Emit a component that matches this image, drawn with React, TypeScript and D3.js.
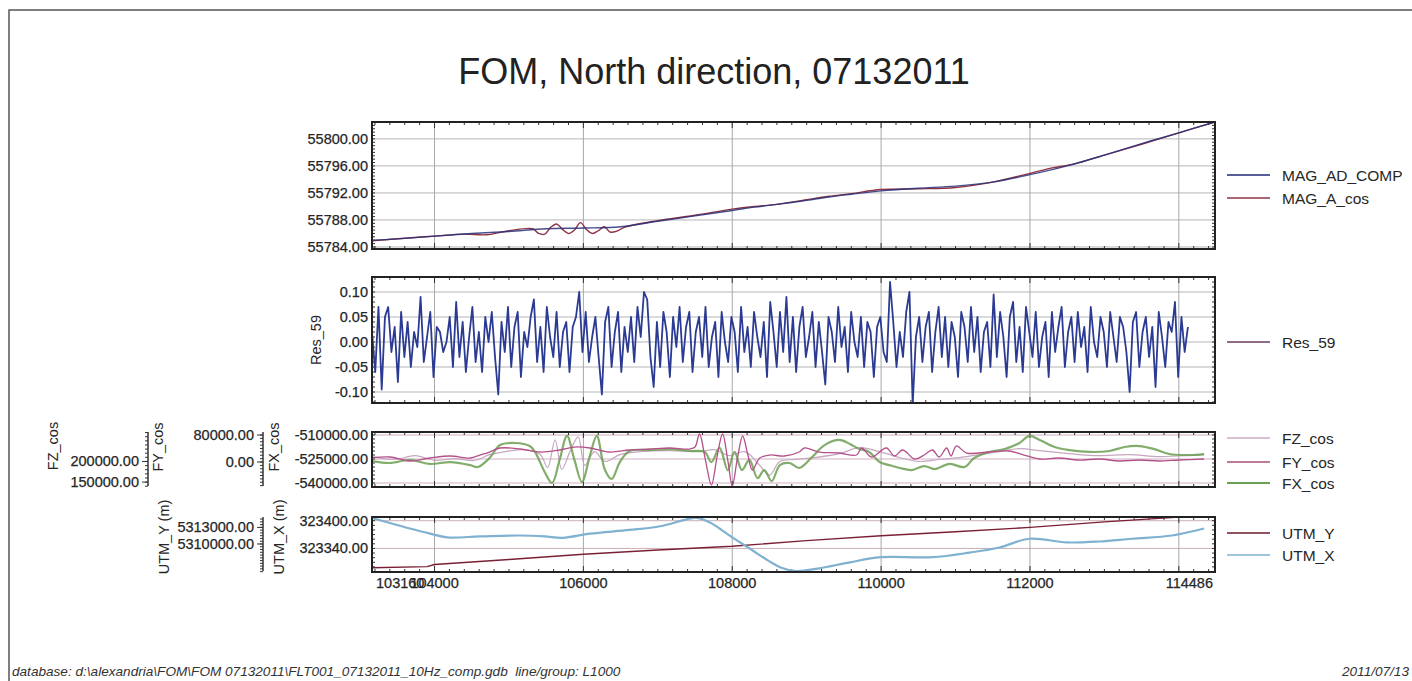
import * as d3 from "d3";

// fiducial range of line L1000
const fidStart = 103160;
const fidEnd = 114486;
const fidGrid = [104000, 106000, 108000, 110000, 112000, 114000];
const fidLabels = [
  { fid: 103160, text: "103160", anchor: "start" },
  { fid: 104000, text: "104000", anchor: "middle" },
  { fid: 106000, text: "106000", anchor: "middle" },
  { fid: 108000, text: "108000", anchor: "middle" },
  { fid: 110000, text: "110000", anchor: "middle" },
  { fid: 112000, text: "112000", anchor: "middle" },
  { fid: 114486, text: "114486", anchor: "end" },
];

// panel 1 - magnetics
const magFid = [103160, 103500, 104000, 104500, 105000, 105500, 106000, 106500, 107000, 107500, 108000, 108300, 108600, 109000, 109300, 109600, 110000, 110500, 111000, 111500, 112000, 112500, 113000, 113500, 114000, 114486];
const magAdComp = [55785.0, 55785.2, 55785.6, 55786.0, 55786.3, 55786.7, 55786.8, 55787.0, 55787.8, 55788.6, 55789.4, 55789.9, 55790.3, 55790.9, 55791.4, 55791.8, 55792.3, 55792.7, 55793.0, 55793.6, 55794.7, 55796.0, 55797.6, 55799.3, 55800.9, 55802.5];
const magCosFid = [103160, 103600, 104000, 104400, 104700, 105000, 105320, 105400, 105480, 105560, 105640, 105720, 105800, 105880, 105960, 106040, 106120, 106200, 106280, 106360, 106440, 106550, 107000, 107500, 108000, 108300, 108600, 109000, 109300, 109600, 110000, 110500, 111000, 111500, 112000, 112300, 112600, 113000, 113500, 114000, 114486];
const magACos = [55784.9, 55785.3, 55785.6, 55785.9, 55785.8, 55786.4, 55786.7, 55786.0, 55785.9, 55786.9, 55787.4, 55786.6, 55786.0, 55786.5, 55787.6, 55786.6, 55786.0, 55786.4, 55787.0, 55786.2, 55786.3, 55786.9, 55787.9, 55788.7, 55789.6, 55790.0, 55790.3, 55791.0, 55791.5, 55791.9, 55792.5, 55792.6, 55792.8, 55793.6, 55794.9, 55795.7, 55796.3, 55797.6, 55799.2, 55800.9, 55802.5];

// panel 2 - residual, one sample every res59Step fids
const res59Step = 43.5;
const res59 = [
  0.02, -0.06, 0.07, -0.095, 0.05, 0.07, -0.02, 0.03, -0.08, 0.06,
  -0.03, 0.04, -0.05, 0.02, -0.01, 0.09, -0.04, 0.01, 0.06, -0.07,
  0.03, 0.02, -0.02, 0.0, 0.05, -0.05, 0.08, -0.03, 0.04, -0.06,
  0.01, 0.07, -0.04, 0.02, -0.06, 0.05, 0.0, 0.06, -0.03, -0.105,
  0.04, -0.02, 0.07, -0.05, 0.03, 0.06, -0.07, 0.02, -0.01, 0.05,
  0.085, -0.04, 0.03, -0.06, 0.07, 0.01, -0.03, 0.06, -0.05, 0.02,
  0.04, -0.06, 0.03, 0.05, 0.1, -0.02, 0.06, -0.04, 0.01, 0.05,
  -0.03, -0.105, 0.04, 0.07, -0.05, 0.02, 0.06, -0.06, 0.03, -0.02,
  0.05, -0.04, 0.07, 0.01, 0.1, 0.085, -0.03, -0.09, 0.04, -0.05,
  0.06, 0.02, -0.07, 0.05, -0.01, 0.07, -0.04, 0.03, 0.06, -0.06,
  0.02, 0.05, -0.03, 0.07, -0.05, 0.01, 0.04, -0.07, 0.06, 0.0,
  -0.04, 0.05, 0.02, -0.06, 0.07, -0.02, 0.03, -0.05, 0.06, 0.01,
  -0.03, 0.04, -0.07, 0.08, 0.02, -0.05, 0.06, -0.02, 0.09, -0.04,
  0.05, -0.06, 0.03, 0.07, -0.03, 0.01, 0.06, -0.05, 0.04, -0.02,
  -0.085, 0.05, 0.02, -0.04, 0.07, -0.01, 0.03, -0.06, 0.06, 0.0,
  -0.03, 0.05, -0.05, 0.04, 0.02, -0.07, 0.03, 0.05, -0.02, -0.04,
  0.12, 0.04, -0.05, 0.02, -0.03, 0.06, 0.1, -0.125, 0.01, 0.05,
  -0.04, 0.03, 0.06, -0.06, 0.02, 0.07, -0.03, 0.05, -0.05, 0.04,
  0.01, -0.07, 0.06, 0.03, -0.04, 0.07, -0.02, 0.05, -0.06, 0.02,
  0.04, -0.05, 0.095, -0.03, 0.06, 0.01, -0.07, 0.05, 0.08, -0.04,
  0.03, -0.06, 0.07, 0.02, -0.03, 0.06, -0.05, 0.01, 0.04, -0.07,
  0.06, -0.02, 0.03, 0.07, -0.05, 0.02, 0.05, -0.04, 0.06, -0.01,
  0.03, -0.06, 0.07, 0.0, -0.03, 0.05, 0.02, -0.05, 0.06, 0.01,
  -0.04, 0.05, 0.03, -0.02, -0.1, 0.04, 0.06, -0.05, 0.02, 0.05,
  -0.03, 0.03, -0.09, 0.06, 0.01, -0.05, 0.04, 0.02, 0.08, -0.07,
  0.05, -0.02, 0.03,
];

// panel 3 - fluxgate components
const fxFid = [103160, 103400, 103670, 103940, 104210, 104480, 104580, 104740, 104880, 105080, 105280, 105350, 105480, 105580, 105680, 105780, 105880, 105980, 106090, 106180, 106290, 106380, 106490, 106620, 106890, 107160, 107430, 107630, 107720, 107830, 107940, 108030, 108130, 108230, 108340, 108430, 108530, 108640, 108770, 108900, 109060, 109240, 109440, 109580, 109710, 109840, 109980, 110110, 110250, 110410, 110580, 110720, 110920, 111120, 111250, 111450, 111660, 111860, 111990, 112130, 112330, 112530, 112800, 113070, 113270, 113470, 113670, 113870, 114140, 114340];
const fxCos = [-526300, -527500, -525600, -528100, -526900, -528800, -530000, -524400, -516300, -515000, -516900, -520600, -533100, -540000, -525600, -510600, -525600, -539400, -522500, -510600, -531900, -537500, -526900, -520000, -519400, -518800, -520000, -520600, -526900, -518100, -531900, -520600, -531900, -525600, -536900, -531900, -538800, -528800, -527500, -530600, -524400, -516300, -513100, -515600, -518800, -520600, -526900, -528800, -530600, -531900, -529400, -531300, -528100, -530000, -524400, -520600, -518800, -515000, -510600, -513100, -517500, -519400, -520600, -520000, -517500, -516900, -518800, -521900, -522500, -521900];
const fyFid = [103160, 103400, 103670, 103940, 104210, 104480, 104610, 104740, 104880, 105150, 105420, 105680, 105880, 106090, 106350, 106620, 106890, 107160, 107430, 107500, 107560, 107640, 107720, 107800, 107870, 107940, 108000, 108070, 108140, 108210, 108270, 108370, 108500, 108700, 108900, 108970, 109170, 109440, 109670, 109740, 109870, 110070, 110180, 110290, 110450, 110580, 110690, 110780, 110880, 110940, 111010, 111150, 111450, 111720, 111920, 112130, 112390, 112660, 112930, 113200, 113470, 113740, 114000, 114340];
const fyCos = [11900, 14800, 3000, 11900, 17800, 11900, 20700, 29600, 41500, 38500, 29600, 35600, 44400, 41500, 29600, 35600, 38500, 41500, 38500, 44400, 83000, 5900, -68200, 20700, 83000, 5900, -71100, 11900, 77000, 20700, -23700, 11900, 20700, 17800, 29600, 41500, 29600, 26700, 20700, 41500, 14800, 41500, 17800, 35600, 8900, 20700, 35600, 14800, 41500, 17800, 47400, 26700, 29600, 32600, 20700, 8900, 11900, 5900, 8900, 3000, 5900, 3000, 5900, 8900];
const fzFid = [103160, 103470, 103740, 104010, 104270, 104540, 104740, 104950, 105210, 105420, 105520, 105620, 105710, 105820, 105930, 106020, 106150, 106290, 106490, 106760, 107160, 107560, 107760, 107960, 108170, 108370, 108500, 108640, 108840, 109110, 109440, 109710, 109980, 110250, 110510, 110780, 111050, 111320, 111590, 111860, 112130, 112390, 112660, 112930, 113330, 113740, 114140, 114340];
const fzCos = [211900, 204800, 214300, 202400, 207100, 202400, 216700, 223800, 228600, 216700, 185700, 252400, 181000, 223800, 259500, 190500, 223800, 200000, 216700, 223800, 226200, 223800, 228600, 214300, 223800, 190500, 166700, 200000, 204800, 209500, 219000, 233300, 223800, 209500, 200000, 204800, 209500, 216700, 223800, 231000, 226200, 221400, 216700, 214300, 216700, 211900, 214300, 216700];

// panel 4 - positions
const utmYFid = [103160, 103900, 104000, 105000, 106000, 107000, 108000, 109000, 110000, 111000, 112000, 113000, 114000, 114340];
const utmY = [5305700, 5305900, 5306300, 5307200, 5308150, 5308900, 5309600, 5310600, 5311500, 5312200, 5313000, 5314000, 5314850, 5314870];
const utmXFid = [103160, 103400, 103670, 103940, 104170, 104610, 105150, 105480, 105720, 106090, 106620, 107030, 107390, 107520, 107700, 108000, 108270, 108500, 108680, 108860, 109170, 109580, 109990, 110690, 111190, 111590, 111990, 112490, 112930, 113370, 113910, 114340];
const utmX = [323406, 323395, 323383, 323372, 323364, 323366, 323368, 323366, 323363, 323372, 323380, 323388, 323403, 323406, 323396, 323364, 323336, 323312, 323297, 323291, 323297, 323310, 323321, 323321, 323331, 323342, 323361, 323353, 323355, 323361, 323368, 323383];

const font = "'Liberation Sans', Arial, sans-serif";
const ink = "#262626";
const left = 372;
const right = 1215;

const x = d3.scaleLinear([fidStart, fidEnd], [left, right]);

function Frame({ id, top, bottom, y, minor, ticks, grid }: any) {
  const topTicks = d3.range(103200, fidEnd, 200);
  const side = d3.range(Math.ceil(y.domain()[0] / minor) * minor, y.domain()[1], minor);
  return (
    <g>
      <clipPath id={id}>
        <rect x={left} y={top} width={right - left} height={bottom - top} />
      </clipPath>
      <g stroke={grid} strokeWidth={1}>
        {ticks.map((t: number) => (
          <line key={t} x1={left} x2={right} y1={y(t)} y2={y(t)} />
        ))}
        {fidGrid.map((f) => (
          <line key={f} x1={x(f)} x2={x(f)} y1={top} y2={bottom} stroke="#a8a8a8" />
        ))}
      </g>
      <g stroke="#333" strokeWidth={1}>
        {topTicks.map((f) => {
          const len = f % 2000 === 0 ? 6 : 3;
          return (
            <g key={f}>
              <line x1={x(f)} x2={x(f)} y1={top} y2={top + len} />
              <line x1={x(f)} x2={x(f)} y1={bottom} y2={bottom - len} />
            </g>
          );
        })}
        {side.map((v: number, i: number) => (
          <g key={i}>
            <line x1={left} x2={left + 3} y1={y(v)} y2={y(v)} />
            <line x1={right} x2={right - 3} y1={y(v)} y2={y(v)} />
          </g>
        ))}
      </g>
      <g fontFamily={font} fontSize={14.5} fill={ink} stroke={ink} strokeWidth={0.25} textAnchor="end">
        {ticks.map((t: number) => (
          <text key={t} x={left - 4} y={y(t) + 5}>{t.toFixed(2)}</text>
        ))}
      </g>
    </g>
  );
}

function Ruler({ ax, top, bottom, y, minor, ticks, labels }: any) {
  const side = d3.range(Math.ceil(y.domain()[0] / minor) * minor, y.domain()[1], minor);
  return (
    <g>
      <line x1={ax} x2={ax} y1={top} y2={bottom} stroke="#333" strokeWidth={1.5} />
      <g stroke="#333" strokeWidth={1}>
        {side.map((v: number, i: number) => (
          <line key={i} x1={ax - 3} x2={ax} y1={y(v)} y2={y(v)} />
        ))}
        {ticks.map((t: number) => (
          <line key={t} x1={ax - 6} x2={ax} y1={y(t)} y2={y(t)} />
        ))}
      </g>
      <g fontFamily={font} fontSize={14.5} fill={ink} stroke={ink} strokeWidth={0.25} textAnchor="end">
        {ticks.map((t: number, i: number) => (
          <text key={t} x={ax - 9} y={y(t) + 5}>{labels[i]}</text>
        ))}
      </g>
    </g>
  );
}

function VTitle({ cx, cy, text }: any) {
  return (
    <text transform={`translate(${cx},${cy}) rotate(-90)`} textAnchor="middle" dominantBaseline="central"
      fontFamily={font} fontSize={14.5} fill={ink}>{text}</text>
  );
}

function Legend({ items }: any) {
  return (
    <g fontFamily={font} fontSize={15.5} fill={ink}>
      {items.map((it: any) => (
        <g key={it.label}>
          <line x1={1227} x2={1270} y1={it.y} y2={it.y} stroke={it.color} strokeWidth={it.w || 1.3} />
          <text x={1282} y={it.y + 5.5}>{it.label}</text>
        </g>
      ))}
    </g>
  );
}

function path(fids: number[], vals: number[], y: any, curve: any = d3.curveLinear) {
  return d3.line<number>((_d, i) => x(fids[i]), (d) => y(d)).curve(curve)(vals) || "";
}

export default function App() {
  const y1 = d3.scaleLinear([55783.7, 55802.5], [249, 122]);
  const y2 = d3.scaleLinear([-0.122, 0.13], [403, 277]);
  const yFx = d3.scaleLinear([-542500, -508125], [487, 432]);
  const yFy = d3.scaleLinear([-74000, 88900], [487, 432]);
  const yFz = d3.scaleLinear([138100, 271400], [487, 432]);
  const yUx = d3.scaleLinear([323289, 323408], [572, 517]);
  const yUy = d3.scaleLinear([5304937, 5314875], [572, 517]);

  const resLine = d3.line<number>((_d, i) => x(fidStart + i * res59Step), (d) => y2(d))(res59) || "";
  const smooth = d3.curveCatmullRom.alpha(0.5);

  return (
    <svg width={1412} height={681} style={{ position: "absolute", left: 0, top: 0, background: "#fff" }}>
      <rect x={0} y={0} width={1412} height={681} fill="#fff" />
      <path d="M9,681 V10 H1412" fill="none" stroke="#555" strokeWidth={1.5} />

      <text x={714} y={84} textAnchor="middle" fontFamily={font} fontSize={36} fill="#222">
        FOM, North direction, 07132011
      </text>

      {/* panel 1 */}
      <Frame id="c1" top={122} bottom={249} y={y1} minor={0.5}
        ticks={[55784, 55788, 55792, 55796, 55800]} grid="#b5b5b5" />
      <g clipPath="url(#c1)" fill="none" strokeLinejoin="round">
        <path d={path(magCosFid, magACos, y1, smooth)} stroke="#8e3444" strokeWidth={1.4} />
        <path d={path(magFid, magAdComp, y1, smooth)} stroke="#28307a" strokeWidth={1.4} opacity={0.85} />
      </g>
      <rect x={left} y={122} width={right - left} height={127} fill="none" stroke="#222" strokeWidth={2} />

      {/* panel 2 */}
      <Frame id="c2" top={277} bottom={403} y={y2} minor={0.01}
        ticks={[-0.1, -0.05, 0, 0.05, 0.1]} grid="#b5b5b5" />
      <g clipPath="url(#c2)" fill="none">
        <path d={resLine} stroke="#2b3a92" strokeWidth={1.8} strokeLinejoin="round" />
      </g>
      <rect x={left} y={277} width={right - left} height={126} fill="none" stroke="#222" strokeWidth={2} />
      <VTitle cx={316} cy={340} text="Res_59" />

      {/* panel 3 */}
      <Frame id="c3" top={432} bottom={487} y={yFx} minor={2500}
        ticks={[-540000, -525000, -510000]} grid="#cfb0c4" />
      <g clipPath="url(#c3)" fill="none" strokeLinejoin="round">
        <path d={path(fzFid, fzCos, yFz, smooth)} stroke="#c6a6c0" strokeWidth={1.2} />
        <path d={path(fxFid, fxCos, yFx, smooth)} stroke="#6d9f52" strokeWidth={2.2} opacity={0.85} />
        <path d={path(fyFid, fyCos, yFy, smooth)} stroke="#b4508a" strokeWidth={1.3} />
      </g>
      <rect x={left} y={432} width={right - left} height={55} fill="none" stroke="#222" strokeWidth={2} />
      <Ruler ax={148} top={432} bottom={486} y={yFz} minor={10000}
        ticks={[150000, 200000]} labels={["150000.00", "200000.00"]} />
      <Ruler ax={263} top={432} bottom={486} y={yFy} minor={10000}
        ticks={[0, 80000]} labels={["0.00", "80000.00"]} />
      <VTitle cx={53} cy={446} text="FZ_cos" />
      <VTitle cx={158} cy={447} text="FY_cos" />
      <VTitle cx={274} cy={447} text="FX_cos" />

      {/* panel 4 */}
      <Frame id="c4" top={517} bottom={572} y={yUx} minor={10}
        ticks={[323340, 323400]} grid="#cbb0b6" />
      <g clipPath="url(#c4)" fill="none" strokeLinejoin="round">
        <path d={path(utmYFid, utmY, yUy)} stroke="#7a2036" strokeWidth={1.4} />
        <path d={path(utmXFid, utmX, yUx, smooth)} stroke="#7fb1d0" strokeWidth={2.2} />
      </g>
      <rect x={left} y={517} width={right - left} height={55} fill="none" stroke="#222" strokeWidth={2} />
      <Ruler ax={263} top={517} bottom={571} y={yUy} minor={500}
        ticks={[5310000, 5313000]} labels={["5310000.00", "5313000.00"]} />
      <VTitle cx={164} cy={537} text="UTM_Y (m)" />
      <VTitle cx={279} cy={537} text="UTM_X (m)" />

      {/* shared fiducial axis */}
      <g fontFamily={font} fontSize={14.5} fill={ink} stroke={ink} strokeWidth={0.25}>
        {fidLabels.map((l) => (
          <text key={l.text} x={x(l.fid) + (l.anchor === "start" ? 4 : l.anchor === "end" ? -2 : 0)} y={588}
            textAnchor={l.anchor as any}>{l.text}</text>
        ))}
      </g>

      <Legend items={[
        { label: "MAG_AD_COMP", y: 175, color: "#1f2a7a" },
        { label: "MAG_A_cos", y: 198, color: "#8e3444" },
        { label: "Res_59", y: 342, color: "#6e3a62" },
        { label: "FZ_cos", y: 438, color: "#cfaac8" },
        { label: "FY_cos", y: 462, color: "#c07a9c", w: 2 },
        { label: "FX_cos", y: 483, color: "#6d9f52", w: 2.2 },
        { label: "UTM_Y", y: 533, color: "#6e1a2c" },
        { label: "UTM_X", y: 555, color: "#7fb1d0", w: 1.6 },
      ]} />

      <g fontFamily={font} fontSize={13.6} fontStyle="italic" fill="#333">
        <text x={12} y={676} style={{ whiteSpace: "pre" }}>
          {"database: d:\\alexandria\\FOM\\FOM 07132011\\FLT001_07132011_10Hz_comp.gdb  line/group: L1000"}
        </text>
        <text x={1409} y={676} textAnchor="end">2011/07/13</text>
      </g>
    </svg>
  );
}
